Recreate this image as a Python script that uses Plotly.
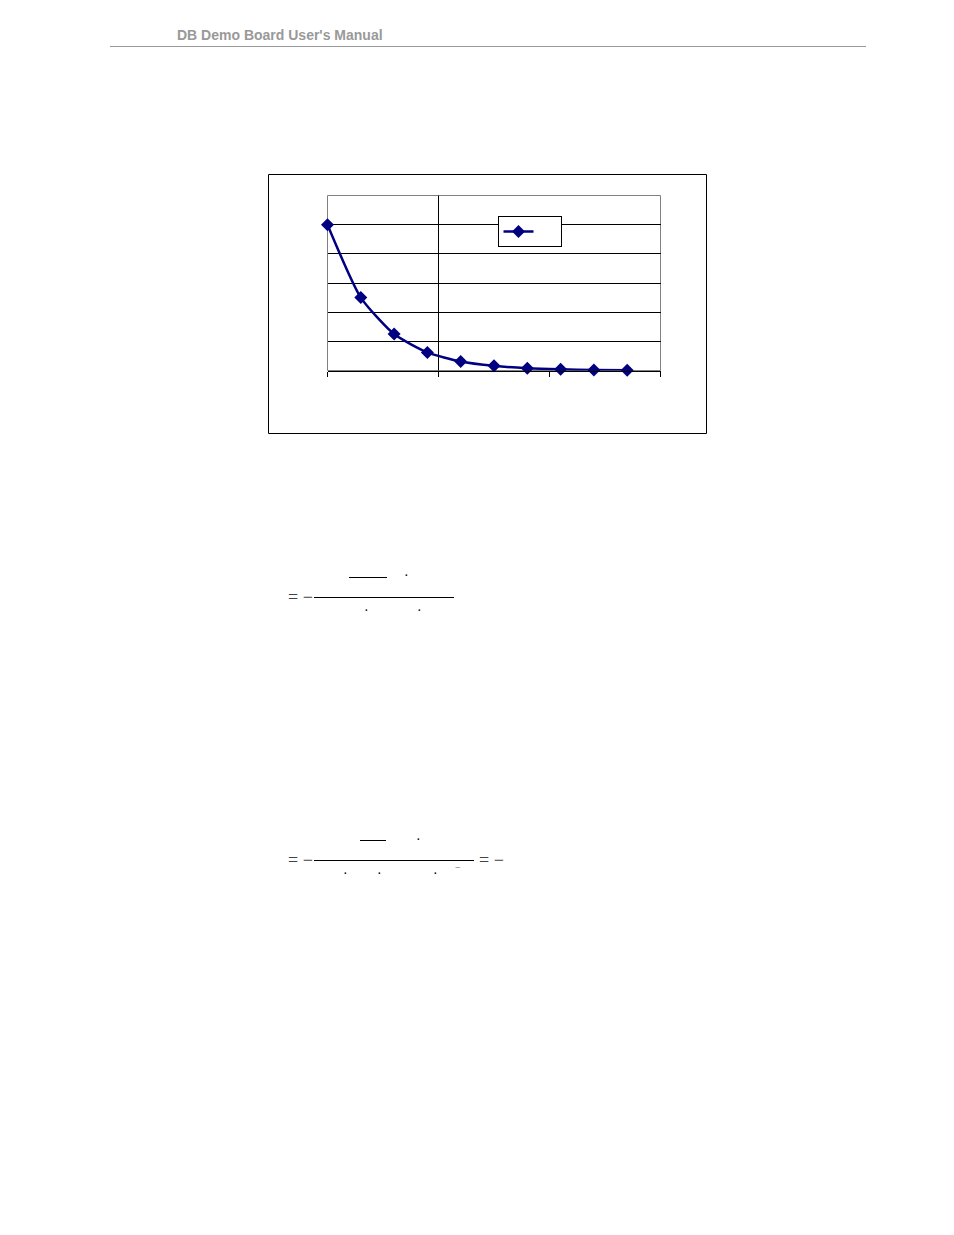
import plotly.graph_objects as go

# the page body has an 8px margin, so the figure is a little smaller than the window
OFF = 8
W, H = 954 - 2 * OFF, 1235 - 2 * OFF

# data
x_vals = [0, 3, 6, 9, 12, 15, 18, 21, 24, 27]
y_vals = [5.0, 2.5, 1.25, 0.62, 0.31, 0.16, 0.08, 0.04, 0.02, 0.01]
series_name = " "
header_text = "DB Demo Board User's Manual"


def px_x(p):
    return (p - OFF) / W


def px_y(p):
    return 1 - (p - OFF) / H


fig = go.Figure()
fig.add_trace(go.Scatter(
    x=x_vals, y=y_vals, mode='lines+markers', name=series_name,
    line=dict(color='#000080', width=2.5, shape='spline', smoothing=0.6),
    marker=dict(symbol='diamond', size=10, color='#000080'),
    cliponaxis=False, showlegend=True,
))

shapes = []
# outer chart box
shapes.append(dict(type='rect', xref='paper', yref='paper',
                   x0=px_x(268.5), x1=px_x(706.5), y0=px_y(433.5), y1=px_y(174.5),
                   line=dict(color='black', width=1), layer='below'))
# plot area border (gray)
shapes.append(dict(type='rect', xref='paper', yref='paper',
                   x0=px_x(327.5), x1=px_x(660.5), y0=px_y(370.5), y1=px_y(195.5),
                   line=dict(color='#808080', width=1), layer='below'))
# value axis crossing at x=10
shapes.append(dict(type='line', xref='x', yref='paper', x0=10, x1=10,
                   y0=px_y(370.5), y1=px_y(195.5),
                   line=dict(color='black', width=1), layer='below'))
# header rule
shapes.append(dict(type='line', xref='paper', yref='paper',
                   x0=px_x(110), x1=px_x(866), y0=px_y(46.5), y1=px_y(46.5),
                   line=dict(color='#999999', width=1)))

# equation fragments (fraction bars)
bars = [(314, 454, 597.5), (349, 387, 577.5), (314, 474, 860.5), (360, 386, 840.5)]
for x0, x1, y in bars:
    shapes.append(dict(type='line', xref='paper', yref='paper',
                       x0=px_x(x0), x1=px_x(x1), y0=px_y(y), y1=px_y(y),
                       line=dict(color='black', width=1)))

annotations = [dict(text='<b>' + header_text + '</b>', x=px_x(175), y=px_y(35),
                    xref='paper', yref='paper', xanchor='left', yanchor='middle',
                    showarrow=False,
                    font=dict(family='Liberation Sans, Arial', size=14, color='#999999'))]

eq_font = dict(family='Liberation Serif, Times New Roman', size=18, color='#444444')
for x, y in [(286, 597), (286, 860), (477, 860)]:
    annotations.append(dict(text='= −', x=px_x(x), y=px_y(y), xref='paper', yref='paper',
                            xanchor='left', yanchor='middle', showarrow=False, font=eq_font))
dot_font = dict(family='Liberation Serif', size=14, color='black')
for x, y in [(406, 575), (366, 610), (419, 610), (418, 839), (345, 873), (379, 873), (435, 873)]:
    annotations.append(dict(text='·', x=px_x(x), y=px_y(y), xref='paper', yref='paper',
                            xanchor='center', yanchor='middle', showarrow=False, font=dot_font))
annotations.append(dict(text='−', x=px_x(458), y=px_y(867), xref='paper', yref='paper',
                        xanchor='center', yanchor='middle', showarrow=False,
                        font=dict(family='Liberation Serif', size=10, color='#555555')))

fig.update_layout(
    width=W, height=H,
    margin=dict(l=0, r=0, t=0, b=0),
    paper_bgcolor='white', plot_bgcolor='rgba(0,0,0,0)',
    xaxis=dict(domain=[px_x(327.5), px_x(660.5)], range=[0, 30], showgrid=False, zeroline=False,
               showline=True, linecolor='black', linewidth=1,
               ticks='outside', ticklen=5, tickcolor='black', tickvals=[0, 10, 20, 30],
               showticklabels=False),
    yaxis=dict(domain=[px_y(370.5), px_y(195.5)], range=[0, 6], showgrid=True,
               gridcolor='black', gridwidth=1, tickvals=[1, 2, 3, 4, 5],
               zeroline=False, showline=False, showticklabels=False),
    legend=dict(x=px_x(497.5), y=px_y(216), xanchor='left', yanchor='top',
                bgcolor='white', bordercolor='black', borderwidth=1,
                font=dict(family='Liberation Sans', size=6), orientation='h',
                entrywidth=17, entrywidthmode='pixels', itemwidth=30),
    shapes=shapes,
    annotations=annotations,
    showlegend=True,
)

fig.write_html("out.html")
